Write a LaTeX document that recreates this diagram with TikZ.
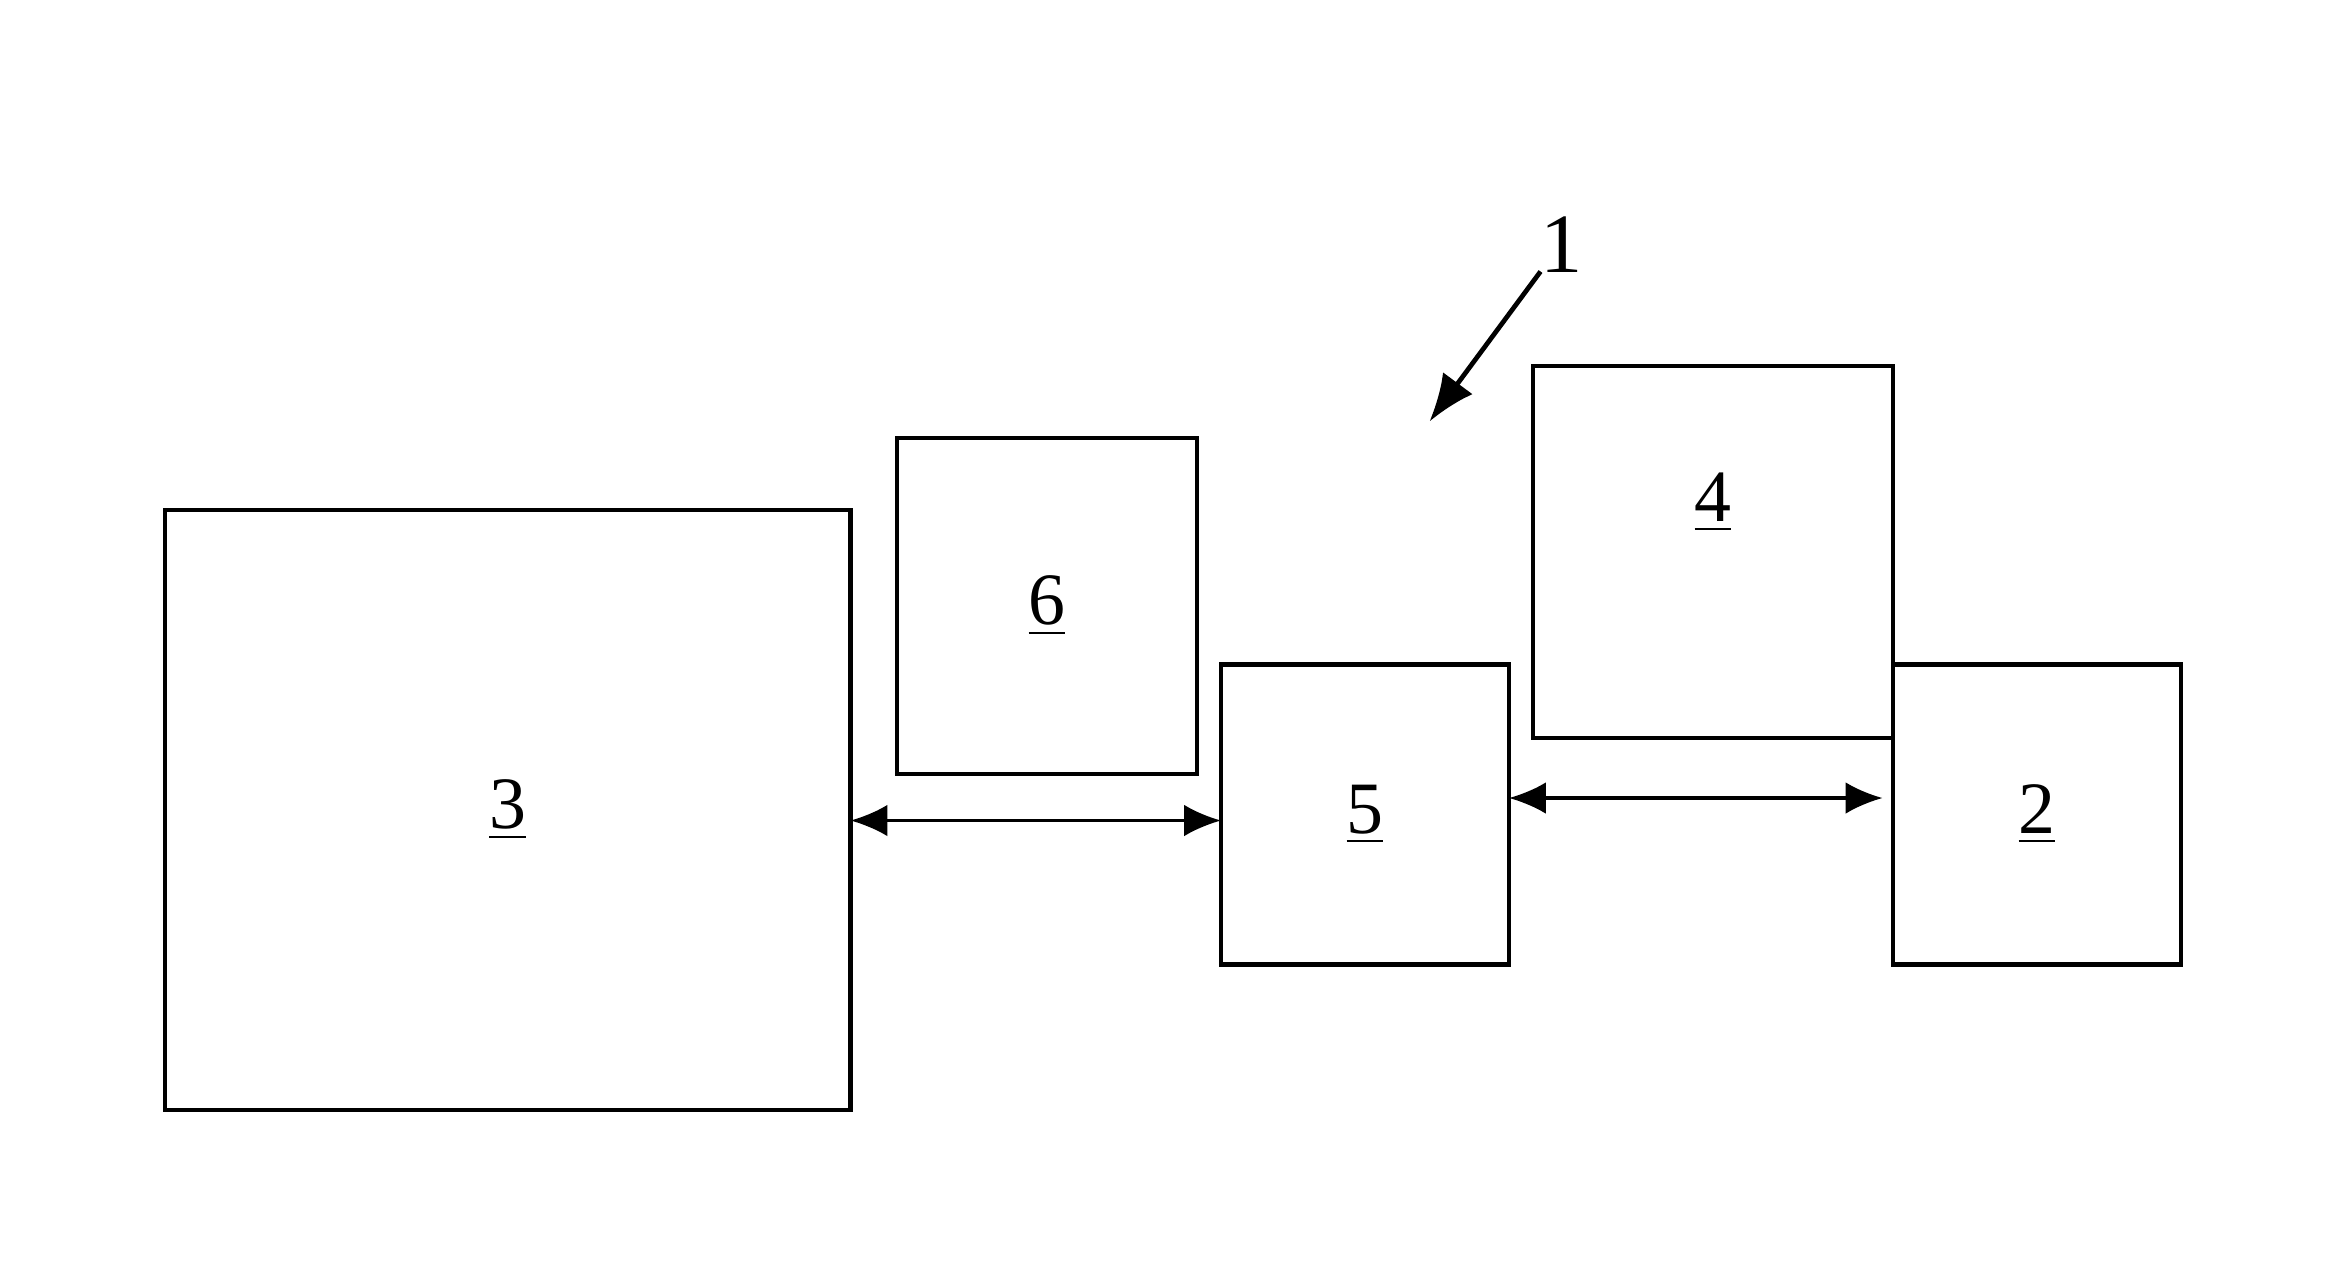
\documentclass[tikz,border=0pt]{standalone}
\usepackage{fontspec}
\setmainfont{Liberation Serif}
\usetikzlibrary{arrows.meta,positioning}
\begin{document}
\begin{tikzpicture}[x=0.01cm,y=-0.01cm,
  unit/.style={draw,line width=0.9pt,inner sep=0pt,font=\fontsize{14}{16}\selectfont},
  link/.style={line width=0.6pt,{Latex[length=7pt,width=6pt]}-{Latex[length=7pt,width=6pt]}}]
\useasboundingbox (0,0) rectangle (1552,857);

% boxes
\draw[unit] (110,340) rectangle (567,740) node[midway] (b3) {\underline{3}};
\draw[unit] (598,292) rectangle (798,516) node[midway] (b6) {\underline{6}};
\draw[unit] (814,443) rectangle (1006,643) node[midway] (b5) {\underline{5}};
\draw[unit] (1022,244) rectangle (1262,492);
\node[font=\fontsize{14}{16}\selectfont] (b4) at (1142,335) {\underline{4}};
\draw[unit] (1262,443) rectangle (1454,643) node[midway] (b2) {\underline{2}};

% connectors
\coordinate (l3) at (567,547);
\coordinate (r5) at (814,547);
\coordinate (l5) at (1006,532);
\coordinate (r2) at (1255,532);
\draw[link] (l3) -- (r5);
\draw[link] (l5) -- (r2);

% reference sign
\node[font=\fontsize{16}{18}\selectfont] (n1) at (1041,163) {1};
\coordinate (tip) at (953,281);
\draw[line width=0.9pt,-{Latex[length=9pt,width=7pt]}] (1027,181) -- (tip);
\end{tikzpicture}
\end{document}
